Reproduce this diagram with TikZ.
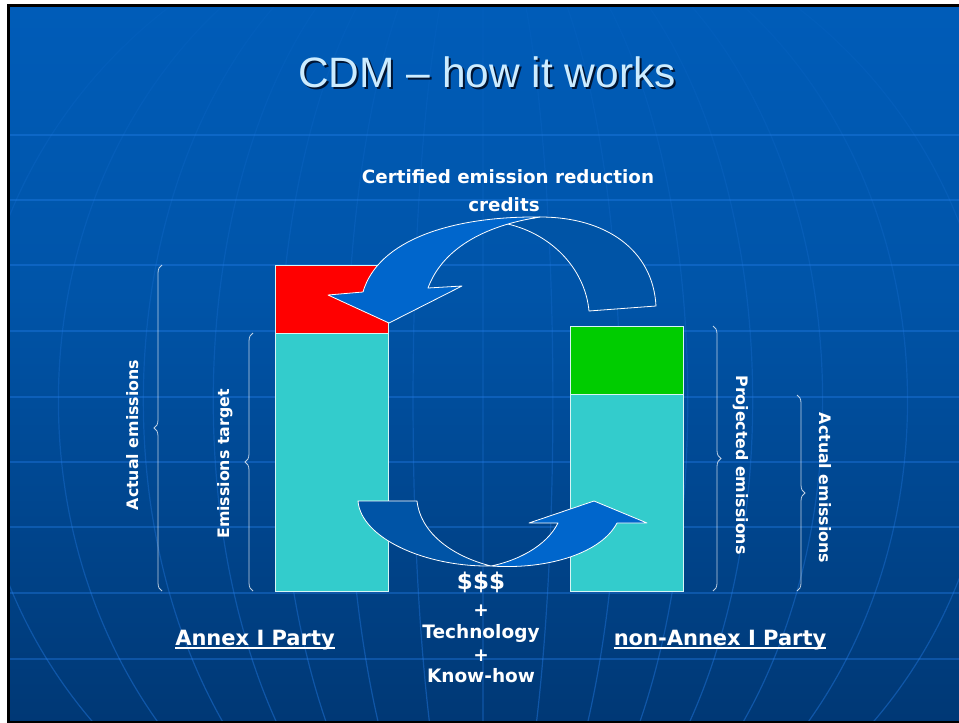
\documentclass[tikz,border=0pt]{standalone}
\usepackage{fontspec}
\setmainfont{Liberation Sans}
\newfontfamily\labelfont{DejaVu Sans}
\usetikzlibrary{decorations.pathreplacing,fadings}

% slide background, dark navy at the bottom to mid blue at the top
\pgfdeclareverticalshading{slidebg}{100bp}{rgb(0bp)=(0,0.15,0.33); rgb(25bp)=(0,0.22,0.46); rgb(55bp)=(0,0.33,0.66); rgb(100bp)=(0,0.40,0.80)}
% globe meridians fade out towards the top
\tikzfading[name=meridianfade, top color=transparent!100, bottom color=transparent!0]

\definecolor{frontblue}{RGB}{0,102,204}
\definecolor{backblue}{RGB}{0,84,166}
\definecolor{barcyan}{RGB}{51,204,204}
\definecolor{bargreen}{RGB}{0,204,0}
\definecolor{gridblue}{RGB}{40,130,240}
\definecolor{titleblue}{RGB}{204,236,255}
\definecolor{titleshade}{RGB}{0,20,50}

\newcommand{\slidetitle}{CDM – how it works}

\begin{document}
\begin{tikzpicture}[x=1pt,y=-1pt,
  bar/.style={draw=white!80!barcyan, line width=0.9pt, inner sep=0pt, outer sep=0pt,
    anchor=north west, minimum width=113pt},
  band/.style={draw=white, line width=0.8pt, line join=round},
  gridline/.style={draw=gridblue, draw opacity=0.35, line width=1.4pt},
  meridian/.style={draw=gridblue, draw opacity=0.5, line width=1.2pt,
    path fading=meridianfade},
  curly/.style={draw=white, draw opacity=0.75, line width=0.8pt, decorate,
    decoration={brace, amplitude=8pt}},
  lbl/.style={text=white, inner sep=0pt, anchor=base,
    font=\labelfont\bfseries\fontsize{15.8}{18}\selectfont},
  headlbl/.style={lbl, font=\labelfont\bfseries\fontsize{18.3}{22}\selectfont},
  partylbl/.style={lbl, font=\labelfont\bfseries\fontsize{21}{25}\selectfont},
  flowlbl/.style={lbl, font=\labelfont\bfseries\fontsize{18.5}{22}\selectfont},
  underbar/.style={draw=white, line width=2pt}
]
\useasboundingbox (0,0) rectangle (959,723);

% page, frame and slide background
\fill[white] (0,0) rectangle (959,723);
\fill[black] (7,4) rectangle (959,723);
\shade[shading=slidebg] (10,7) rectangle (959,720);

% globe grid
\begin{scope}
  \clip (10,7) rectangle (959,720);
  \foreach \gy in {135,200,265,331,397,462,527,593,659}
    \draw[gridline] (10,\gy) -- (959,\gy);
  \draw[meridian] (484,-100) -- (484,900)
    foreach \r in {70,137,205,270,340,425,510} {(484,400) ellipse [x radius=\r, y radius=500]};
\end{scope}

% title with its drop shadow
\node[anchor=base, inner sep=0pt, text=titleblue, font=\fontsize{42.5}{50}\selectfont]
  (title) at (487,87)
  {\makebox[0pt][l]{\raisebox{-2pt}[0pt][0pt]{\hspace{2pt}\color{titleshade}\slidetitle}}\slidetitle};

% emission bars
\node[bar, fill=red, minimum height=68pt] (redbar) at (275,265) {};
\node[bar, fill=barcyan, minimum height=258pt] (targetbar) at (275,333) {};
\node[bar, fill=bargreen, minimum height=68pt] (greenbar) at (570,326) {};
\node[bar, fill=barcyan, minimum height=197pt] (actualbar) at (570,394) {};

% credits arrow: far half, then near half with the head
\draw[band, fill=backblue] (589,311) -- (656,306)
  .. controls (653,250) and (606,217) .. (540,217) -- (503,223)
  .. controls (550,232) and (585,268) .. (589,311) -- cycle;
\draw[band, fill=frontblue] (540,217)
  .. controls (452,216) and (378,240) .. (363,292) -- (328,295) -- (389,323)
  -- (462,286) -- (428,288)
  .. controls (442,250) and (482,226) .. (540,217) -- cycle;

% money and technology arrow: far half, then near half with the head
\draw[band, fill=backblue] (358,501) -- (417,501)
  .. controls (421,535) and (455,557) .. (491,566)
  .. controls (425,567) and (361,538) .. (358,501) -- cycle;
\draw[band, fill=frontblue] (491,566)
  .. controls (550,570) and (602,552) .. (617,523) -- (647,523) -- (594,501)
  -- (529,523) -- (558,523)
  .. controls (546,547) and (516,561) .. (491,566) -- cycle;

% braces
\draw[curly] (162,591) -- (162,265);
\draw[curly] (253,591) -- (253,333);
\draw[curly] (713,326) -- (713,591);
\draw[curly] (797,395) -- (797,591);

% labels
\node[headlbl] (cer1) at (508,183) {Certified emission reduction};
\node[headlbl] (cer2) at (504,211) {credits};

\node[lbl, rotate=90] (actualL) at (138,435) {Actual emissions};
\node[lbl, rotate=90] (target) at (229,464) {Emissions target};
\node[lbl, rotate=-90] (projected) at (736,465) {Projected emissions};
\node[lbl, rotate=-90] (actualR) at (819,488) {Actual emissions};

\node[partylbl] (annexL) at (255,645) {Annex I Party};
\draw[underbar] ([yshift=-3pt]annexL.base west) -- ([yshift=-3pt]annexL.base east);
\node[partylbl] (annexR) at (720,645) {non-Annex I Party};
\draw[underbar] ([yshift=-3pt]annexR.base west) -- ([yshift=-3pt]annexR.base east);

\node[lbl, font=\labelfont\bfseries\fontsize{23}{27}\selectfont] (money) at (481,589) {\$\$\$};
\node[flowlbl] (plus1) at (481,616) {+};
\node[flowlbl] (tech) at (481,638) {Technology};
\node[flowlbl] (plus2) at (481,661) {+};
\node[flowlbl] (know) at (481,682) {Know-how};
\end{tikzpicture}
\end{document}
